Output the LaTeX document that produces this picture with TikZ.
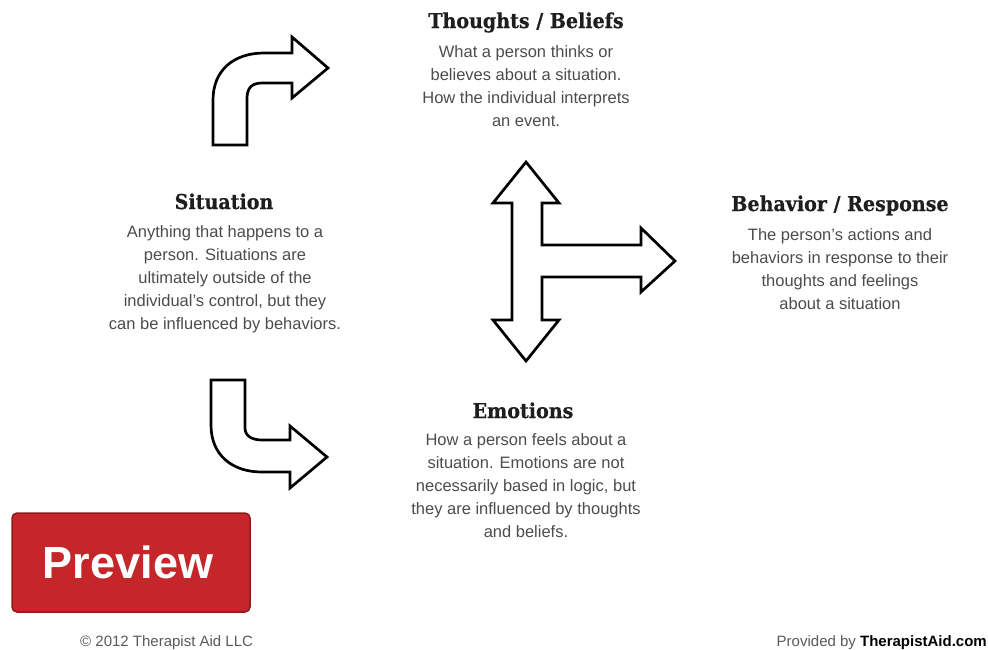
\documentclass[tikz,border=0pt]{standalone}
\usepackage{fontspec}
\setmainfont{Liberation Sans}
\newfontfamily\headfont[FakeStretch=0.93,FakeBold=0.6]{DejaVu Serif}
\definecolor{bodygray}{HTML}{4C4C4C}
\definecolor{headblack}{HTML}{1E1E1E}
\definecolor{prevred}{HTML}{C4262A}
\definecolor{prevedge}{HTML}{8E1B1B}
\definecolor{footgray}{HTML}{5A5A5A}
\begin{document}
\begin{tikzpicture}[x=1pt,y=-1pt,
  heading/.style={anchor=base,inner sep=0pt,text=headblack,font=\headfont\bfseries\fontsize{20.5}{24}\selectfont},
  bodytext/.style={anchor=north,inner sep=0pt,align=center,text=bodygray,font=\fontsize{16.5}{23}\selectfont},
  shapearrow/.style={draw=black,line width=2.7pt,line join=miter,fill=white}]
\useasboundingbox (0,0) rectangle (988,649);
% curved arrow up-right
\draw[shapearrow] (213,145) -- (213,100) .. controls (213,70) and (234,53) .. (264,53) -- (292,53) -- (292,37) -- (328,68) -- (292,98) -- (292,83) -- (262,83) .. controls (252,83) and (247,88) .. (247,98) -- (247,145) -- cycle;
% curved arrow down-right
\draw[shapearrow] (211,380) -- (245,380) -- (245,428) .. controls (245,436) and (252,440) .. (262,440) -- (290,440) -- (290,426) -- (327,457) -- (290,488) -- (290,472) -- (262,472) .. controls (232,472) and (211,455) .. (211,425) -- cycle;
% three-way arrow
\draw[shapearrow] (526,162) -- (559,203) -- (542,203) -- (542,245) -- (641,245) -- (641,228) -- (675,261) -- (641,292) -- (641,277) -- (542,277) -- (542,320) -- (559,320) -- (526,361) -- (493,320) -- (512,320) -- (512,203) -- (493,203) -- cycle;
% headings and texts
\node[heading] (thh) at (526,28) {Thoughts / Beliefs};
\node[bodytext] (thb) at (526,45) {What a person thinks or\\believes about a situation.\\How the individual interprets\\an event.};
\node[heading] (sih) at (224,209) {Situation};
\node[bodytext] (sib) at (225,225) {Anything that happens to a\\person. Situations are\\ultimately outside of the\\individual's control, but they\\can be influenced by behaviors.};
\node[heading] (beh) at (840,211) {Behavior / Response};
\node[bodytext] (beb) at (840,228) {The person's actions and\\behaviors in response to their\\thoughts and feelings\\about a situation};
\node[heading] (emh) at (523,418) {Emotions};
\node[bodytext] (emb) at (526,433) {How a person feels about a\\situation. Emotions are not\\necessarily based in logic, but\\they are influenced by thoughts\\and beliefs.};
% preview button
\draw[fill=prevred,draw=prevedge,line width=1.5pt,rounded corners=5pt] (12,513) rectangle (250,612);
\node[anchor=base,inner sep=0pt,text=white,font=\bfseries\fontsize{45}{50}\selectfont] (prev) at (128,578) {Preview};
% footer
\node[anchor=base west,inner sep=0pt,text=footgray,font=\fontsize{15}{17}\selectfont] (copy) at (80,646) {© 2012 Therapist Aid LLC};
\node[anchor=base east,inner sep=0pt,font=\fontsize{15}{17}\selectfont] (prov) at (987,646) {\textcolor{footgray}{Provided by} \textbf{TherapistAid.com}};
\end{tikzpicture}
\end{document}
